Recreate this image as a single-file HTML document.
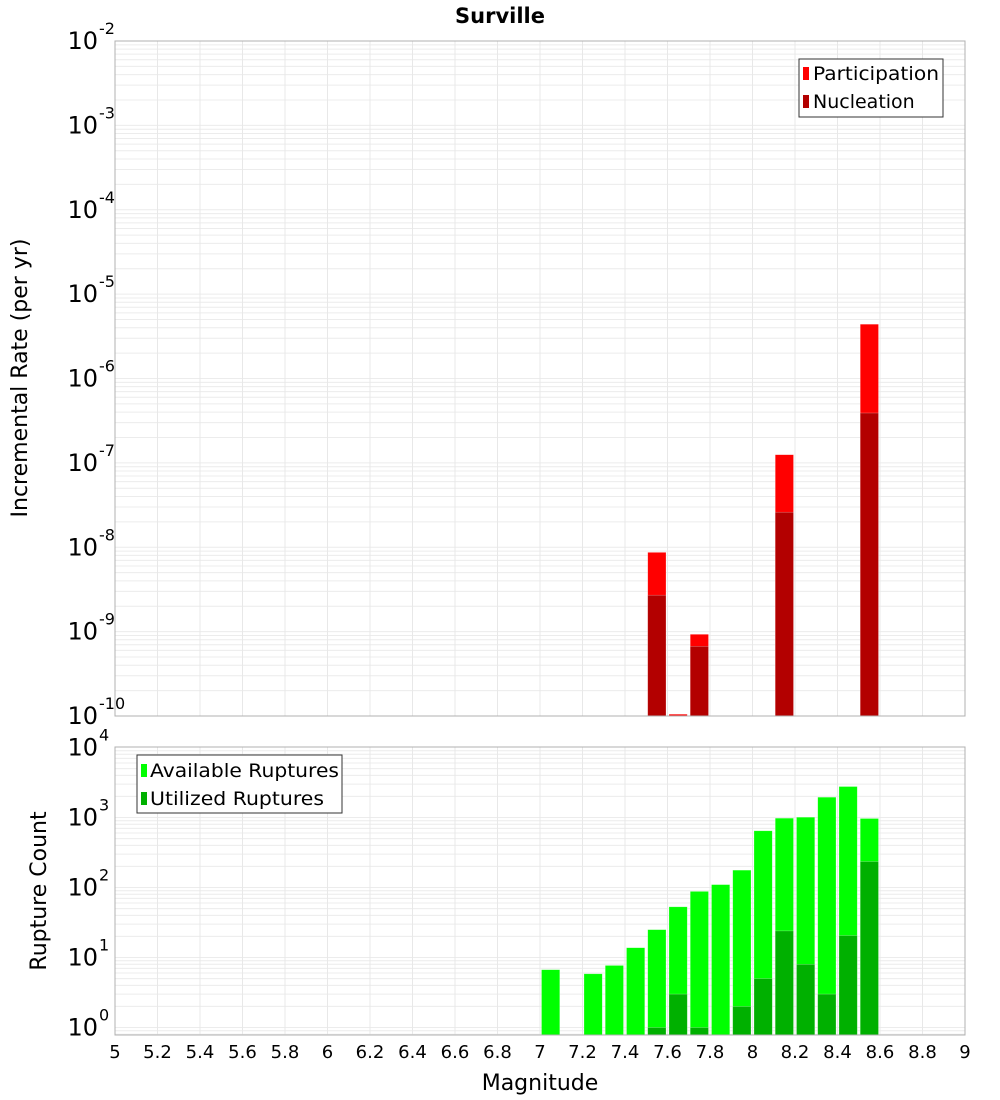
<!DOCTYPE html>
<html><head><meta charset="utf-8">
<style>
html,body{margin:0;padding:0;background:#fff;}
svg{display:block;font-family:"DejaVu Sans","Liberation Sans",sans-serif;}
</style></head>
<body>
<svg id="chart" width="1000" height="1100" viewBox="0 0 1000 1100" xmlns="http://www.w3.org/2000/svg">
<rect width="1000" height="1100" fill="#fff"/>
<text x="500" y="23" text-anchor="middle" font-size="21" font-weight="bold">Surville</text>
<g id="topPlot"></g>
<g id="botPlot"></g>
<text transform="translate(27,378) rotate(-90)" text-anchor="middle" font-size="22">Incremental Rate (per yr)</text>
<text transform="translate(46,891) rotate(-90)" text-anchor="middle" font-size="22">Rupture Count</text>
<text x="540" y="1090" text-anchor="middle" font-size="22">Magnitude</text>
<g>
<rect x="799" y="59" width="144" height="58" fill="#fff" stroke="#333" stroke-width="1"/>
<rect x="803" y="67" width="6" height="13" fill="#ff0000"/>
<text x="813" y="80" font-size="19" textLength="126" lengthAdjust="spacingAndGlyphs">Participation</text>
<rect x="803" y="95" width="6" height="13" fill="#b30000"/>
<text x="813" y="108" font-size="19">Nucleation</text>
</g>
<g>
<rect x="137" y="755" width="205" height="58" fill="#fff" stroke="#333" stroke-width="1"/>
<rect x="141" y="764" width="6" height="13" fill="#00ff00"/>
<text x="150" y="777" font-size="19" textLength="189" lengthAdjust="spacingAndGlyphs">Available Ruptures</text>
<rect x="141" y="792" width="6" height="13" fill="#00b000"/>
<text x="150" y="805" font-size="19" textLength="174" lengthAdjust="spacingAndGlyphs">Utilized Ruptures</text>
</g>
</svg>
<script>
const mags = [7.05,7.15,7.25,7.35,7.45,7.55,7.65,7.75,7.85,7.95,8.05,8.15,8.25,8.35,8.45,8.55];
const participation = [0,0,0,0,0,8.7e-9,1.05e-10,9.3e-10,0,0,0,1.25e-7,0,0,0,4.4e-6];
const nucleation = [0,0,0,0,0,2.7e-9,0,6.7e-10,0,0,0,2.6e-8,0,0,0,3.9e-7];
const available = [6.7,0,5.85,7.7,13.8,25,53,88,110,177,646,978,1010,1950,2770,968];
const utilized = [0,0,0,0,0,1,3,1,0,2,5,24,8,3,20.6,235];
const xTicks = ["5","5.2","5.4","5.6","5.8","6","6.2","6.4","6.6","6.8","7","7.2","7.4","7.6","7.8","8","8.2","8.4","8.6","8.8","9"];
const NS="http://www.w3.org/2000/svg";
const X0=115,X1=965;
const xs = m => X0+(m-5)/4*(X1-X0);
const topY = v => 41+(-2-Math.log10(v))*84.375;
const botY = v => 1027.5-Math.log10(v)*70;
function mk(parent,tag,attrs){const e=document.createElementNS(NS,tag);for(const k in attrs)e.setAttribute(k,attrs[k]);parent.appendChild(e);return e;}
function panel(g,y0,y1,yf,dmin,dmax){
  mk(g,'rect',{x:X0,y:y0,width:X1-X0,height:y1-y0,fill:'#fff'});
  for(let d=dmin;d<dmax;d++){for(let k=1;k<10;k++){const yy=yf(k*Math.pow(10,d));if(yy<y0||yy>y1)continue;
    const l=mk(g,'line',{x1:X0,x2:X1,y1:yy,y2:yy,stroke:'#ececec','stroke-width':1});
    
    }}
  for(let i=0;i<xTicks.length;i++){const xx=xs(5+i*0.2);
    const l=mk(g,'line',{x1:xx,x2:xx,y1:y0,y2:y1,stroke:'#e8e8e8','stroke-width':1});
    
    }
}
function ylabels(g,yf,dmin,dmax,sx){
  for(let d=dmin;d<=dmax;d++){const yy=yf(Math.pow(10,d));
    const t=mk(g,'text',{x:sx,y:yy+8,'text-anchor':'end','font-size':24});t.textContent='10';
    
    
    const s=mk(g,'text',{x:sx+1,y:yy-7,'font-size':16});s.textContent=String(d);
    
    }
}
const topG=document.getElementById('topPlot'),botG=document.getElementById('botPlot');
panel(topG,41,716,topY,-10,-2);
panel(botG,747,1035,botY,-1,4);
const bw=0.086;
function bars(g,vals,yf,ybase,ymin,color,name){
  mags.forEach((m,i)=>{const v=vals[i];if(!(v>0))return;const yy=Math.max(yf(v),ymin);
    const r=mk(g,'rect',{x:xs(m-bw/2),y:yy,width:xs(m+bw/2)-xs(m-bw/2),height:Math.max(ybase-yy,1),fill:color,stroke:'#fff','stroke-opacity':0.4,'stroke-width':0.6});
    
    });
}
bars(topG,participation,topY,716,41,'#ff0000','participation-bar');
bars(topG,nucleation,topY,716,41,'#b30000','nucleation-bar');
bars(botG,available,botY,1035,747,'#00ff00','available-bar');
bars(botG,utilized,botY,1035,747,'#00b000','utilized-bar');
mk(topG,'rect',{x:X0,y:41,width:X1-X0,height:675,fill:'none',stroke:'#b0b0b0','stroke-width':1});
mk(botG,'rect',{x:X0,y:747,width:X1-X0,height:288,fill:'none',stroke:'#b0b0b0','stroke-width':1});
ylabels(topG,topY,-10,-2,98);
ylabels(botG,botY,0,4,98);
xTicks.forEach((t,i)=>{const e=mk(botG,'text',{x:xs(5+i*0.2),y:1058,'text-anchor':'middle','font-size':18});e.textContent=t;
  
  });
</script>
</body></html>
